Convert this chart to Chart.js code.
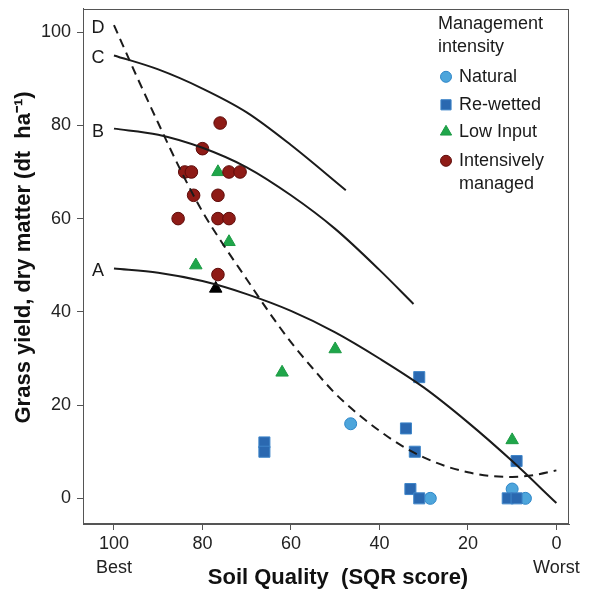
<!DOCTYPE html>
<html>
<head>
<meta charset="utf-8">
<script src="https://cdn.jsdelivr.net/npm/chart.js@4"></script>
<style>
  html, body { margin: 0; padding: 0; background: #ffffff; }
  #wrap { width: 589px; height: 591px; }
</style>
</head>
<body>
<div id="wrap"><canvas id="c" width="589" height="591"></canvas></div>
<script>
const FONT = '"Liberation Sans", Arial, Helvetica, sans-serif';

// Model curves: grass yield against soil quality score
const curveAX = [100, 90, 80, 70, 60, 50, 40, 30, 20, 10, 0];
const curveAY = [49.3, 48.4, 46.6, 43.8, 40.2, 35.6, 30.0, 23.8, 16.3, 8.0, -1.0];
const curveBX = [100, 90, 80, 70, 60, 50, 40, 32.3];
const curveBY = [79.3, 78.0, 75.2, 71.0, 65.0, 57.8, 49.0, 41.7];
const curveCX = [100, 90, 80, 70, 60, 47.6];
const curveCY = [95.0, 92.0, 87.9, 82.8, 75.8, 66.1];
const curveDX = [100, 95, 90, 85, 80, 75, 70, 65, 60, 55, 50, 45, 40, 35, 30, 25, 20, 15, 10, 5, 0];
const curveDY = [101.5, 90.8, 80.5, 70.5, 61.5, 54.0, 47.0, 40.0, 33.5, 27.8, 22.5, 18.2, 14.5, 11.3, 8.8, 6.9, 5.6, 4.8, 4.6, 5.0, 6.0];
const curveNames = ['A', 'B', 'C', 'D'];

// Observed sites by management intensity
const naturalX = [46.5, 28.5, 10, 7];
const naturalY = [16, 0, 2, 0];
const rewettedX = [66, 66, 31, 34, 32, 33, 31, 9, 11, 9];
const rewettedY = [12, 10, 26, 15, 10, 2, 0, 8, 0, 0];
const lowInputX = [76.5, 74, 81.5, 62, 50, 10];
const lowInputY = [70, 55, 50, 27, 32, 12.5];
const intensiveX = [76, 80, 84, 82.5, 74, 71.5, 82, 76.5, 85.5, 76.5, 74, 76.5];
const intensiveY = [80.5, 75, 70, 70, 70, 70, 65, 65, 60, 60, 60, 48];
const benchmarkX = [77];
const benchmarkY = [45];

// Axis ticks and titles
const xTicks = [100, 80, 60, 40, 20, 0];
const yTicks = [0, 20, 40, 60, 80, 100];
const xEndLabels = { 100: 'Best', 0: 'Worst' };
const xTitle = 'Soil Quality  (SQR score)';
const yTitle = 'Grass yield, dry matter (dt  ha\u207B\u00B9)';

const pts = (xs, ys) => xs.map((x, i) => ({ x: x, y: ys[i] }));

const lineStyle = {
  type: 'line', showLine: true, pointRadius: 0, pointHoverRadius: 0,
  borderColor: '#1b1b1b', borderWidth: 2, fill: false,
  cubicInterpolationMode: 'monotone', order: 0
};

const datasets = [
  Object.assign({ label: 'A', data: pts(curveAX, curveAY) }, lineStyle),
  Object.assign({ label: 'B', data: pts(curveBX, curveBY) }, lineStyle),
  Object.assign({ label: 'C', data: pts(curveCX, curveCY) }, lineStyle),
  Object.assign({ label: 'D', data: pts(curveDX, curveDY), borderDash: [9, 6] }, lineStyle),
  { label: 'Intensively managed', data: pts(intensiveX, intensiveY), pointStyle: 'circle',
    pointRadius: 6.3, backgroundColor: '#8e1b16', borderColor: '#5e0c0a', borderWidth: 1, order: 1 },
  { label: 'Low Input', data: pts(lowInputX, lowInputY), pointStyle: 'triangle',
    pointRadius: 7.2, backgroundColor: '#1fa64a', borderColor: '#1c9a44', borderWidth: 1, order: 1 },
  { label: 'Re-wetted', data: pts(rewettedX, rewettedY), pointStyle: 'rect',
    pointRadius: 7.8, backgroundColor: '#2a68b0', borderColor: '#3f86c9', borderWidth: 1, order: 1 },
  { label: 'Natural', data: pts(naturalX, naturalY), pointStyle: 'circle',
    pointRadius: 6, backgroundColor: '#4da5db', borderColor: '#2e86c8', borderWidth: 1, order: 1 },
  { label: 'Benchmark', data: pts(benchmarkX, benchmarkY), pointStyle: 'triangle',
    pointRadius: 7.2, backgroundColor: '#000000', borderColor: '#000000', borderWidth: 1, order: 1 }
];

const legendItems = [
  { text: ['Natural'], style: 'circle', r: 5.5, fill: '#4da5db', stroke: '#2e86c8' },
  { text: ['Re-wetted'], style: 'rect', r: 7.2, fill: '#2a68b0', stroke: '#3f86c9' },
  { text: ['Low Input'], style: 'triangle', r: 6.5, fill: '#1fa64a', stroke: '#1c9a44' },
  { text: ['Intensively', 'managed'], style: 'circle', r: 5.5, fill: '#8e1b16', stroke: '#5e0c0a' }
];

// Box around the plotting region
const framePlugin = {
  id: 'frame',
  beforeDatasetsDraw(chart) {
    const { ctx, chartArea: a } = chart;
    ctx.save();
    ctx.strokeStyle = '#555555';
    ctx.lineWidth = 1;
    ctx.strokeRect(Math.round(a.left) + 0.5, Math.round(a.top) + 0.5,
                   Math.round(a.right - a.left) - 1, Math.round(a.bottom - a.top) - 1);
    ctx.restore();
  }
};

// Axis titles, set slightly off the plot centre like the original layout
const axisTitlePlugin = {
  id: 'axisTitles',
  afterDraw(chart) {
    const { ctx, chartArea: a } = chart;
    ctx.save();
    ctx.font = 'bold 22px ' + FONT;
    ctx.fillStyle = '#111111';
    ctx.textAlign = 'center';
    ctx.textBaseline = 'middle';
    ctx.fillText(xTitle, (a.left + a.right) / 2 + 12, chart.height - 13);
    ctx.translate(24, (a.top + a.bottom) / 2 - 9);
    ctx.rotate(-Math.PI / 2);
    ctx.fillText(yTitle, 0, 0);
    ctx.restore();
  }
};

// Letters naming each model curve, placed left of its start
const curveLabelPlugin = {
  id: 'curveLabels',
  afterDatasetsDraw(chart) {
    const { ctx, scales } = chart;
    const starts = [curveAY[0], curveBY[0], curveCY[0], curveDY[0]];
    ctx.save();
    ctx.font = '18px ' + FONT;
    ctx.fillStyle = '#1a1a1a';
    ctx.textAlign = 'center';
    ctx.textBaseline = 'middle';
    curveNames.forEach((n, i) => {
      ctx.fillText(n, scales.x.getPixelForValue(103.6), scales.y.getPixelForValue(starts[i]) + 3);
    });
    ctx.restore();
  }
};

// Legend with title, drawn inside the top-right of the plot
const legendPlugin = {
  id: 'insetLegend',
  afterDraw(chart) {
    const { ctx, chartArea: a } = chart;
    const x0 = a.right - 131;
    ctx.save();
    ctx.font = '18px ' + FONT;
    ctx.fillStyle = '#1a1a1a';
    ctx.textAlign = 'left';
    ctx.textBaseline = 'middle';
    ctx.fillText('Management', x0, a.top + 15);
    ctx.fillText('intensity', x0, a.top + 38);
    let y = a.top + 68;
    const gaps = [28, 27, 29];
    legendItems.forEach((it, i) => {
      ctx.fillStyle = it.fill;
      ctx.strokeStyle = it.stroke;
      Chart.helpers.drawPoint(ctx, { pointStyle: it.style, radius: it.r, borderWidth: 1, rotation: 0 }, x0 + 8, y);
      ctx.fillStyle = '#1a1a1a';
      it.text.forEach((t, j) => ctx.fillText(t, x0 + 21, y + j * 23));
      if (i < gaps.length) y += gaps[i];
    });
    ctx.restore();
  }
};

const noEdgePadding = s => {
  s.paddingTop = 0; s.paddingBottom = 0; s.paddingLeft = 0; s.paddingRight = 0;
};

new Chart(document.getElementById('c'), {
  type: 'scatter',
  data: { datasets: datasets },
  options: {
    responsive: false,
    animation: false,
    devicePixelRatio: 1,
    layout: { padding: { top: 4, right: 20, left: 0, bottom: 0 } },
    plugins: { legend: { display: false }, tooltip: { enabled: false } },
    scales: {
      x: {
        type: 'linear', position: 'bottom', reverse: true, min: -2.85, max: 107,
        afterBuildTicks: s => { s.ticks = xTicks.map(v => ({ value: v })); },
        afterFit: s => { s.height = 67; noEdgePadding(s); },
        ticks: {
          autoSkip: false, maxRotation: 0, padding: 3, color: '#222222',
          font: { family: FONT, size: 18, lineHeight: 1.28 },
          callback: v => (xEndLabels[v] ? [String(v), xEndLabels[v]] : String(v))
        },
        grid: { display: true, drawOnChartArea: false, drawTicks: true, tickLength: 6, tickColor: '#555555', color: '#555555' },
        border: { display: true, color: '#555555', width: 1 },
        title: { display: false }
      },
      y: {
        type: 'linear', min: -5.5, max: 105,
        afterBuildTicks: s => { s.ticks = yTicks.map(v => ({ value: v })); },
        afterFit: s => { s.width = 83; noEdgePadding(s); },
        ticks: { padding: 6, color: '#222222', font: { family: FONT, size: 18 } },
        grid: { display: true, drawOnChartArea: false, drawTicks: true, tickLength: 6, tickColor: '#555555', color: '#555555' },
        border: { display: true, color: '#555555', width: 1 },
        title: { display: false }
      }
    }
  },
  plugins: [framePlugin, curveLabelPlugin, legendPlugin, axisTitlePlugin]
});
</script>
</body>
</html>
